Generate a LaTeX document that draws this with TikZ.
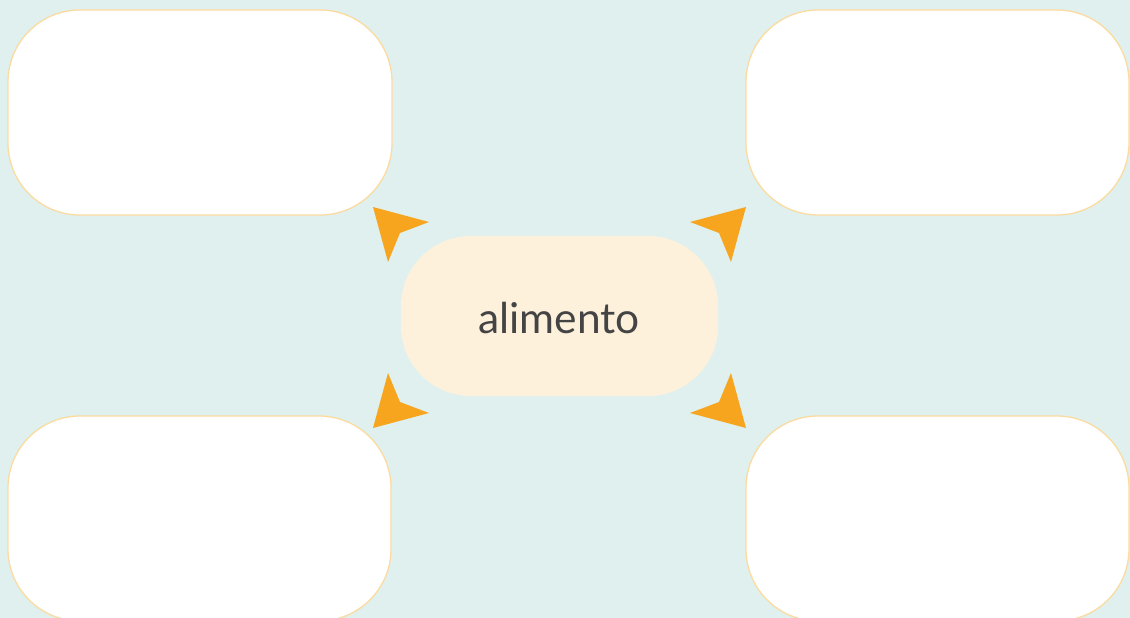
\documentclass[tikz,border=0pt]{standalone}
\usepackage{fontspec}
\setmainfont{Lato}
\definecolor{bgc}{HTML}{DFF0EF}
\definecolor{boxline}{HTML}{FCDBA0}
\definecolor{centerfill}{HTML}{FDF1DC}
\definecolor{arrowc}{HTML}{F7A51F}
\definecolor{textc}{HTML}{444444}
\tikzset{
  emptybox/.style={draw=boxline, line width=1.3pt, fill=white, rounded corners=72pt},
  centerbox/.style={fill=centerfill, rounded corners=70pt},
  tipshape/.style={fill=arrowc},
}
\begin{document}
\begin{tikzpicture}[x=1pt,y=-1pt]
\useasboundingbox (0,0) rectangle (1130,618);
\fill[bgc] (0,0) rectangle (1130,618);
% boxes
\draw[emptybox] (8,10) rectangle (392,215);
\draw[emptybox] (746,10) rectangle (1129,215);
\draw[emptybox] (8,416) rectangle (391,621);
\draw[emptybox] (746,416) rectangle (1129,621);
% center
\fill[centerbox] (401,236) rectangle (718,396);
\node[text=textc, font=\fontsize{42.5}{48}\selectfont, anchor=base] (center) at (559,333) {alimento};
% arrowheads
\fill[tipshape] (373,207) -- (429,222) -- (400,233) -- (388,262) -- cycle;
\fill[tipshape] (746,207) -- (690,222) -- (719,233) -- (731,262) -- cycle;
\fill[tipshape] (373,428) -- (429,413) -- (400,402) -- (388,373) -- cycle;
\fill[tipshape] (746,428) -- (690,413) -- (719,402) -- (731,373) -- cycle;
\end{tikzpicture}
\end{document}
